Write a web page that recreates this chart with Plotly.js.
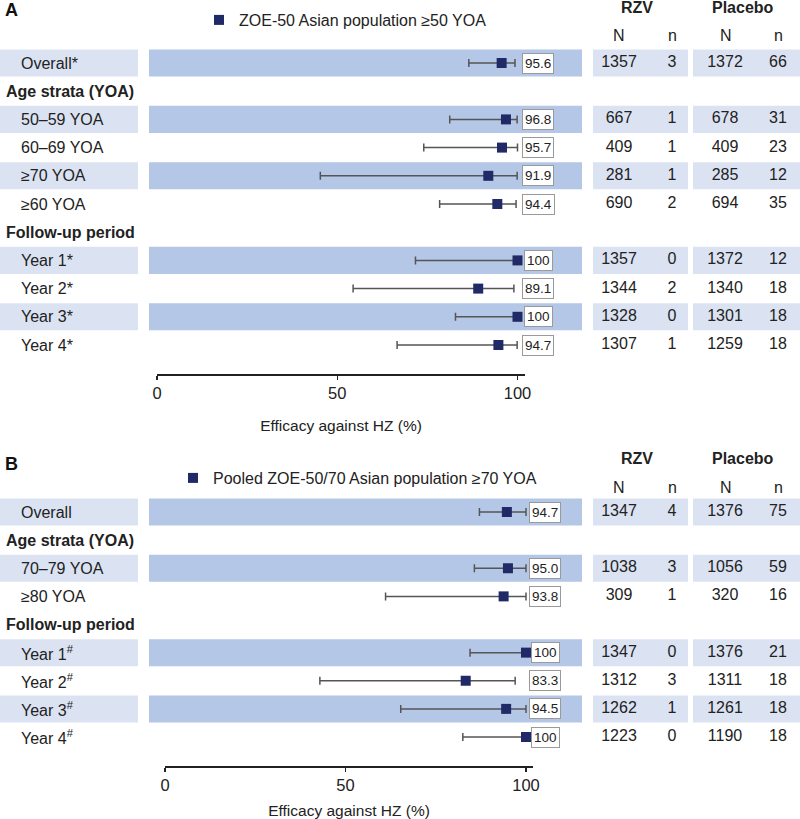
<!DOCTYPE html>
<html>
<head>
<meta charset="utf-8">
<script src="https://cdn.plot.ly/plotly-3.0.1.min.js"></script>
<style>html,body{margin:0;padding:0;background:#fff;}#chart{width:800px;height:819px;}</style>
</head>
<body>
<div id="chart"></div>
<script>
// ---------- Panel A data ----------
const rowOrderA = ['Overall*','Age strata (YOA)','50–59 YOA','60–69 YOA','≥70 YOA','≥60 YOA','Follow-up period','Year 1*','Year 2*','Year 3*','Year 4*'];
const headersA = ['Age strata (YOA)','Follow-up period'];
const labelsA = ['Overall*','50–59 YOA','60–69 YOA','≥70 YOA','≥60 YOA','Year 1*','Year 2*','Year 3*','Year 4*'];
const effA = [95.6, 96.8, 95.7, 91.9, 94.4, 100, 89.1, 100, 94.7];
const loA  = [86.5, 81.2, 74.0, 45.3, 78.4, 71.7, 54.4, 82.8, 66.6];
const hiA  = [99.3, 99.9, 100, 99.9, 99.6, 100, 99.0, 100, 99.9];
const rzvNA = [1357, 667, 409, 281, 690, 1357, 1344, 1328, 1307];
const rzvnA = [3, 1, 1, 1, 2, 0, 2, 0, 1];
const plNA  = [1372, 678, 409, 285, 694, 1372, 1340, 1301, 1259];
const plnA  = [66, 31, 23, 12, 35, 12, 18, 18, 18];
const bandA = ['Overall*','50–59 YOA','≥70 YOA','Year 1*','Year 3*'];
const legendA = 'ZOE-50 Asian population ≥50 YOA';

// ---------- Panel B data ----------
const rowOrderB = ['Overall','Age strata (YOA)','70–79 YOA','≥80 YOA','Follow-up period','Year 1<sup>#</sup>','Year 2<sup>#</sup>','Year 3<sup>#</sup>','Year 4<sup>#</sup>'];
const headersB = ['Age strata (YOA)','Follow-up period'];
const labelsB = ['Overall','70–79 YOA','≥80 YOA','Year 1<sup>#</sup>','Year 2<sup>#</sup>','Year 3<sup>#</sup>','Year 4<sup>#</sup>'];
const effB = [94.7, 95.0, 93.8, 100, 83.3, 94.5, 100];
const loB  = [87.1, 85.7, 61.1, 84.5, 42.9, 65.3, 82.5];
const hiB  = [100, 100, 100, 100, 97.0, 100, 100];
const rzvNB = [1347, 1038, 309, 1347, 1312, 1262, 1223];
const rzvnB = [4, 3, 1, 0, 3, 1, 0];
const plNB  = [1376, 1056, 320, 1376, 1311, 1261, 1190];
const plnB  = [75, 59, 16, 21, 18, 18, 18];
const bandB = ['Overall','70–79 YOA','Year 1<sup>#</sup>','Year 3<sup>#</sup>'];
const legendB = 'Pooled ZOE-50/70 Asian population ≥70 YOA';

const tableCols = ['RZV N','RZV n','Placebo N','Placebo n'];
const tickVals = [0, 50, 100];
const axisTitle = 'Efficacy against HZ (%)';

// ---------- styling ----------
const W = 800, H = 819;
const FONT = 'Liberation Sans, Arial, sans-serif';
const NAVY = '#1f2a66';
const DARKBAND = '#b4c7e6';
const LIGHTBAND = '#dbe3f3';
const TXT = '#222222';
const FS = 16;
const px = v => v / W;
const py = v => 1 - v / H;

function forestTrace(eff, lo, hi, labels, xa, ya, name, leg) {
  return {
    type: 'scatter', mode: 'markers', x: eff, y: labels, xaxis: xa, yaxis: ya,
    name: name, legend: leg, showlegend: true,
    marker: {symbol: 'square', size: 10, color: NAVY},
    error_x: {type: 'data', symmetric: false,
      array: eff.map((v, i) => hi[i] - v), arrayminus: eff.map((v, i) => v - lo[i]),
      color: '#555555', thickness: 1.5, width: 4},
    hoverinfo: 'x+y'
  };
}
function tableTrace(labels, cols, ya) {
  const xs = [], ys = [], ts = [];
  cols.forEach((c, k) => c.forEach((v, i) => { xs.push(tableCols[k]); ys.push(labels[i]); ts.push(String(v)); }));
  return {type: 'scatter', mode: 'text', x: xs, y: ys, text: ts, xaxis: 'x3', yaxis: ya,
    textposition: 'middle center', textfont: {family: FONT, size: FS, color: TXT},
    showlegend: false, hoverinfo: 'skip'};
}

const data = [
  forestTrace(effA, loA, hiA, labelsA, 'x', 'y', legendA, 'legend'),
  forestTrace(effB, loB, hiB, labelsB, 'x2', 'y2', legendB, 'legend2'),
  tableTrace(labelsA, [rzvNA, rzvnA, plNA, plnA], 'y'),
  tableTrace(labelsB, [rzvNB, rzvnB, plNB, plnB], 'y2')
];

const shapes = [];
const annotations = [];
function bands(order, bandRows, yref) {
  bandRows.forEach(r => {
    const i = order.indexOf(r);
    [[0, 138, LIGHTBAND], [149, 582, DARKBAND], [593, 688, LIGHTBAND], [693, 800, LIGHTBAND]].forEach(b => {
      shapes.push({type: 'rect', layer: 'below', xref: 'paper', yref: yref,
        x0: px(b[0]), x1: px(b[1]), y0: i - 0.48, y1: i + 0.48, fillcolor: b[2], line: {width: 0}});
    });
  });
}
bands(rowOrderA, bandA, 'y');
bands(rowOrderB, bandB, 'y2');

function rowLabels(order, headers, yref) {
  order.forEach(r => {
    const isH = headers.includes(r);
    annotations.push({xref: 'paper', yref: yref, x: px(isH ? 4 : 19), y: r, xanchor: 'left', yanchor: 'middle',
      text: r, showarrow: false,
      font: {family: FONT, size: FS, color: TXT, weight: isH ? 700 : 400}});
  });
}
rowLabels(rowOrderA, headersA, 'y');
rowLabels(rowOrderB, headersB, 'y2');

function valueBoxes(eff, labels, xPix, yref) {
  eff.forEach((v, i) => {
    annotations.push({xref: 'paper', yref: yref, x: px(xPix), y: labels[i], xanchor: 'center', yanchor: 'middle',
      text: v === 100 ? '100' : v.toFixed(1), showarrow: false, bgcolor: '#ffffff',
      bordercolor: '#9a9a9a', borderwidth: 1, borderpad: 2,
      font: {family: FONT, size: 13.5, color: TXT}});
  });
}
valueBoxes(effA, labelsA, 538, 'y');
valueBoxes(effB, labelsB, 545, 'y2');

function headerRow(yTop, yNn) {
  annotations.push({xref: 'paper', yref: 'paper', x: px(637), y: py(yTop), text: 'RZV', showarrow: false,
    xanchor: 'center', yanchor: 'middle', font: {family: FONT, size: FS, color: TXT, weight: 700}});
  annotations.push({xref: 'paper', yref: 'paper', x: px(743), y: py(yTop), text: 'Placebo', showarrow: false,
    xanchor: 'center', yanchor: 'middle', font: {family: FONT, size: FS, color: TXT, weight: 700}});
  [[619, 'N'], [672, 'n'], [726, 'N'], [778, 'n']].forEach(c => {
    annotations.push({xref: 'paper', yref: 'paper', x: px(c[0]), y: py(yNn), text: c[1], showarrow: false,
      xanchor: 'center', yanchor: 'middle', font: {family: FONT, size: FS, color: TXT}});
  });
}
headerRow(8, 36);
headerRow(458, 487);

annotations.push({xref: 'paper', yref: 'paper', x: px(3), y: py(10), text: 'A', showarrow: false,
  xanchor: 'left', yanchor: 'middle', font: {family: FONT, size: 18, color: '#111', weight: 700}});
annotations.push({xref: 'paper', yref: 'paper', x: px(3), y: py(464), text: 'B', showarrow: false,
  xanchor: 'left', yanchor: 'middle', font: {family: FONT, size: 18, color: '#111', weight: 700}});

function xAxis(d0, d1, rmax, posPix, standoff) {
  return {domain: [px(d0), px(d1)], range: [0, rmax], anchor: 'free', position: py(posPix),
    showline: true, linecolor: '#222', linewidth: 1.5, showgrid: false, zeroline: false,
    tickmode: 'array', tickvals: tickVals, ticks: 'outside', ticklen: 4, tickwidth: 1.5, tickcolor: '#222',
    tickfont: {family: FONT, size: 16.5, color: TXT},
    title: {text: axisTitle, standoff: standoff, font: {family: FONT, size: 15.5, color: TXT}},
    fixedrange: true};
}

const layout = {
  width: W, height: H, margin: {l: 0, r: 0, t: 0, b: 0},
  paper_bgcolor: '#ffffff', plot_bgcolor: 'rgba(0,0,0,0)',
  font: {family: FONT, color: TXT},
  xaxis: xAxis(157, 525, (525 - 157) / 3.605, 374, 19),
  xaxis2: xAxis(165, 533, (533 - 165) / 3.61, 766, 12),
  xaxis3: {type: 'category', categoryarray: tableCols, categoryorder: 'array', domain: [0, 1],
    range: [-619 / 53, (800 - 619) / 53], anchor: 'free', position: 0, visible: false, fixedrange: true},
  yaxis: {type: 'category', categoryarray: rowOrderA, categoryorder: 'array', domain: [0, 1],
    range: [(H - 63) / 28.2, -63 / 28.2], visible: false, fixedrange: true},
  yaxis2: {type: 'category', categoryarray: rowOrderB, categoryorder: 'array', domain: [0, 1],
    range: [(H - 512) / 28.125, -512 / 28.125], visible: false, fixedrange: true},
  legend: {x: px(199), y: py(20), xanchor: 'left', yanchor: 'middle', bgcolor: 'rgba(0,0,0,0)',
    font: {family: FONT, size: FS, color: TXT}},
  legend2: {x: px(173), y: py(478), xanchor: 'left', yanchor: 'middle', bgcolor: 'rgba(0,0,0,0)',
    font: {family: FONT, size: FS, color: TXT}},
  shapes: shapes, annotations: annotations, showlegend: true
};

Plotly.newPlot('chart', data, layout, {displayModeBar: false, staticPlot: true});
</script>
</body>
</html>
